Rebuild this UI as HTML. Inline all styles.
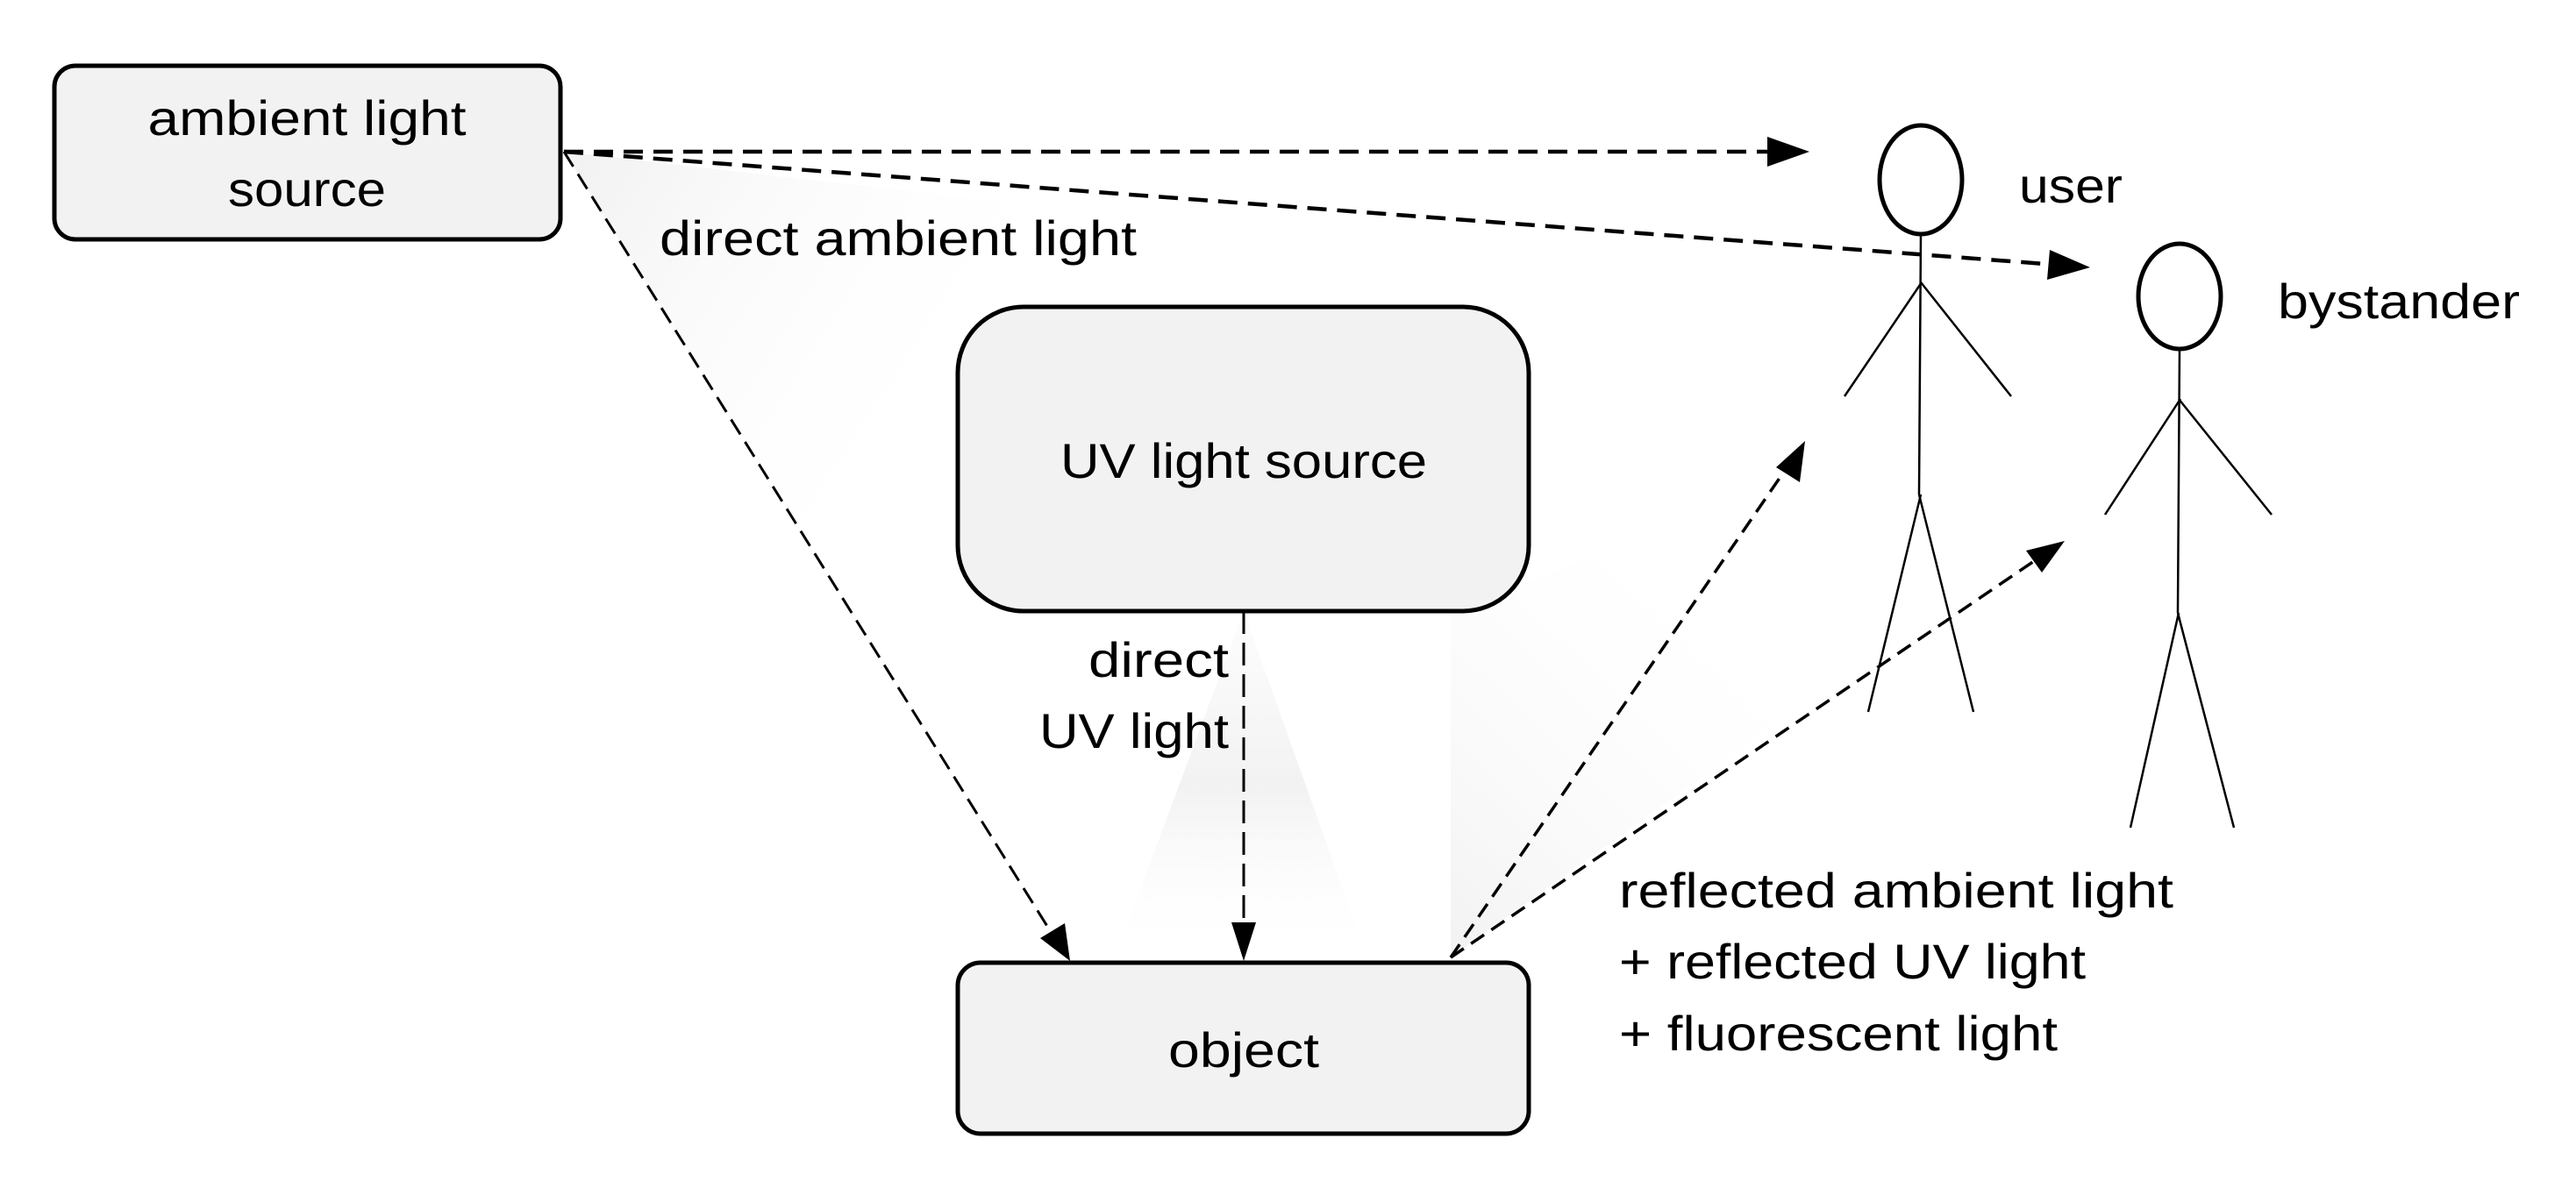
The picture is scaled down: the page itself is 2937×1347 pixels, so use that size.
<!DOCTYPE html>
<html><head><meta charset="utf-8"><style>
html,body{margin:0;padding:0;background:#fff;}
svg{display:block;}
text{font-family:"Liberation Sans",sans-serif;fill:#000;}
</style></head><body>
<svg width="2937" height="1347" viewBox="0 0 2937 1347" xmlns="http://www.w3.org/2000/svg">
<defs>
<linearGradient id="g1" x1="0" y1="0" x2="1" y2="1"><stop offset="0" stop-color="#f1f1f1"/><stop offset="0.55" stop-color="#fff" stop-opacity="0"/></linearGradient>
<linearGradient id="g2" x1="0" y1="0" x2="0" y2="1"><stop offset="0" stop-color="#f4f4f4" stop-opacity="0.2"/><stop offset="0.5" stop-color="#f2f2f2"/><stop offset="1" stop-color="#fff" stop-opacity="0"/></linearGradient>
<linearGradient id="g3" x1="0" y1="1" x2="1" y2="0"><stop offset="0" stop-color="#f2f2f2"/><stop offset="0.7" stop-color="#fff" stop-opacity="0"/></linearGradient>
</defs>
<polygon points="643,173 1230,240 1218,1096" fill="url(#g1)"/>
<polygon points="1418,697 1560,1096 1270,1096" fill="url(#g2)"/>
<polygon points="1654,1092 1654,700 2000,560 2200,700" fill="url(#g3)"/>

<rect x="62" y="75" width="577" height="198" rx="24" fill="#f2f2f2" stroke="#000" stroke-width="5"/>
<rect x="1092" y="350" width="651" height="347" rx="75" fill="#f2f2f2" stroke="#000" stroke-width="5"/>
<rect x="1092" y="1098" width="651" height="195" rx="26" fill="#f2f2f2" stroke="#000" stroke-width="5"/>

<text x="350" y="154" font-size="56" text-anchor="middle" textLength="363" lengthAdjust="spacingAndGlyphs">ambient light</text>
<text x="350" y="235" font-size="56" text-anchor="middle" textLength="180" lengthAdjust="spacingAndGlyphs">source</text>
<text x="1418" y="545" font-size="56" text-anchor="middle" textLength="418" lengthAdjust="spacingAndGlyphs">UV light source</text>
<text x="1418" y="1217" font-size="56" text-anchor="middle" textLength="172" lengthAdjust="spacingAndGlyphs">object</text>

<text x="752" y="291" font-size="56" textLength="544" lengthAdjust="spacingAndGlyphs">direct ambient light</text>
<text x="1401" y="772" font-size="56" text-anchor="end" textLength="160" lengthAdjust="spacingAndGlyphs">direct</text>
<text x="1401" y="853" font-size="56" text-anchor="end" textLength="216" lengthAdjust="spacingAndGlyphs">UV light</text>
<text x="1846" y="1035" font-size="56" textLength="632" lengthAdjust="spacingAndGlyphs">reflected ambient light</text>
<text x="1846" y="1116" font-size="56" textLength="532" lengthAdjust="spacingAndGlyphs">+ reflected UV light</text>
<text x="1846" y="1198" font-size="56" textLength="500" lengthAdjust="spacingAndGlyphs">+ fluorescent light</text>
<text x="2302" y="231" font-size="56" textLength="118" lengthAdjust="spacingAndGlyphs">user</text>
<text x="2597" y="363" font-size="56" textLength="276" lengthAdjust="spacingAndGlyphs">bystander</text>

<g fill="none" stroke="#000">
<line x1="643" y1="173" x2="2025" y2="173" stroke-width="4.5" stroke-dasharray="22 12"/>
<line x1="643" y1="173" x2="2345" y2="302" stroke-width="4.5" stroke-dasharray="22 12"/>
<line x1="643" y1="173" x2="1200" y2="1066" stroke-width="3" stroke-dasharray="20 10"/>
<line x1="1418" y1="697" x2="1418" y2="1060" stroke-width="3" stroke-dasharray="26 10"/>
<line x1="1654" y1="1092" x2="2036" y2="535" stroke-width="3.5" stroke-dasharray="18 10"/>
<line x1="1654" y1="1092" x2="2322" y2="638" stroke-width="3.5" stroke-dasharray="18 10"/>
</g>
<g fill="#000">
<polygon points="2063,173 2015,156 2015,190"/>
<polygon points="2383,305 2337,285 2334,319"/>
<polygon points="1220,1096 1186,1070 1214,1053"/>
<polygon points="1418,1096 1404,1052 1432,1052"/>
<polygon points="2058,503 2025,533 2052,550"/>
<polygon points="2354,617 2310,628 2328,653"/>
</g>

<g fill="none" stroke="#000">
<ellipse cx="2190" cy="205" rx="47" ry="62" stroke-width="5"/>
<line x1="2190" y1="267" x2="2188" y2="564" stroke-width="2.5"/>
<line x1="2103" y1="452" x2="2191" y2="322" stroke-width="2.5"/>
<line x1="2190" y1="322" x2="2293" y2="452" stroke-width="2.5"/>
<line x1="2190" y1="564" x2="2130" y2="812" stroke-width="2.5"/>
<line x1="2188" y1="564" x2="2250" y2="812" stroke-width="2.5"/>
<ellipse cx="2485" cy="338" rx="47" ry="60" stroke-width="5"/>
<line x1="2485" y1="398" x2="2483" y2="699" stroke-width="2.5"/>
<line x1="2400" y1="587" x2="2486" y2="455" stroke-width="2.5"/>
<line x1="2484" y1="455" x2="2590" y2="587" stroke-width="2.5"/>
<line x1="2484" y1="699" x2="2429" y2="944" stroke-width="2.5"/>
<line x1="2483" y1="699" x2="2547" y2="944" stroke-width="2.5"/>
</g>
</svg>
</body></html>
